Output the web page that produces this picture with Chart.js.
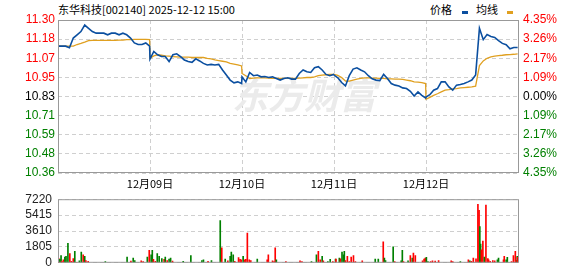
<!DOCTYPE html>
<html>
<head>
<meta charset="utf-8">
<script src="https://cdn.jsdelivr.net/npm/chart.js@4.4.1/dist/chart.umd.min.js"></script>
<style>
  body { margin: 0; background: #fff; width: 578px; height: 276px; position: relative; overflow: hidden; }
  canvas { position: absolute; left: 0; }
  #price { top: 0; }
  #vol { top: 186px; }
  .txt { position: absolute; font-family: "Noto Sans CJK SC", sans-serif; font-size: 11px; line-height: 15px; color: #000; white-space: nowrap; }
  .mk { position: absolute; width: 6px; height: 3px; }
</style>
</head>
<body>
<div class="txt" style="left:58px;top:2px">东华科技[002140] 2025-12-12 15:00</div>
<div class="txt" style="left:430px;top:2px">价格</div>
<div class="mk" style="left:462px;top:11px;background:#0b4fa0"></div>
<div class="txt" style="left:476px;top:2px">均线</div>
<div class="mk" style="left:507px;top:11px;background:#e0a020"></div>
<canvas id="price" width="578" height="190"></canvas>
<canvas id="vol" width="578" height="90"></canvas>
<script>
// one sample every 10 minutes, 241 minutes per trading day
const minutesPerDay = 241;
const sampleStep = 10;

const dayLabels = ["12月09日", "12月10日", "12月11日", "12月12日"];
// bottom to top
const priceTicks = ["10.36", "10.48", "10.59", "10.71", "10.83", "10.95", "11.07", "11.18", "11.30"];
const pctTicks = ["4.35%", "3.26%", "2.17%", "1.09%", "0.00%", "1.09%", "2.17%", "3.26%", "4.35%"];
const priceMin = 10.359;
const priceMax = 11.301;
const volTicks = [0, 1805, 3610, 5415, 7220];

const price1 = [11.14, 11.14, 11.14, 11.13, 11.19, 11.21, 11.23, 11.27, 11.25, 11.23, 11.22, 11.22, 11.22, 11.21, 11.22, 11.22, 11.21, 11.22, 11.21, 11.19, 11.16, 11.15, 11.15, 11.16, 11.14];
const price2 = [11.06, 11.107, 11.087, 11.076, 11.076, 11.045, 11.087, 11.093, 11.076, 11.055, 11.045, 11.04, 11.062, 11.049, 11.034, 11.024, 11.028, 11.024, 11.028, 10.993, 10.962, 10.931, 10.914, 10.92, 10.91];
const price3 = [10.951, 10.92, 10.978, 10.958, 10.962, 10.951, 10.953, 10.947, 10.951, 10.941, 10.931, 10.941, 10.945, 10.937, 10.937, 10.972, 10.993, 10.982, 10.978, 11.007, 11.014, 10.993, 10.966, 10.958, 10.966];
const price4 = [10.962, 10.945, 10.916, 10.895, 10.958, 10.999, 11.007, 10.993, 10.982, 10.958, 10.939, 10.931, 10.928, 10.966, 10.941, 10.91, 10.90, 10.895, 10.883, 10.879, 10.862, 10.833, 10.858, 10.837, 10.821];
const price5 = [10.827, 10.841, 10.869, 10.879, 10.92, 10.92, 10.889, 10.869, 10.90, 10.904, 10.91, 10.92, 10.931, 10.962, 11.25, 11.18, 11.211, 11.2, 11.194, 11.174, 11.157, 11.149, 11.124, 11.132, 11.132];

const avg1 = [11.14, 11.14, 11.14, 11.14, 11.14, 11.15, 11.157, 11.165, 11.174, 11.176, 11.176, 11.176, 11.176, 11.176, 11.176, 11.176, 11.177, 11.177, 11.18, 11.18, 11.182, 11.182, 11.182, 11.182, 11.18];
const avg2 = [11.065, 11.08, 11.087, 11.084, 11.08, 11.078, 11.076, 11.074, 11.072, 11.072, 11.072, 11.07, 11.07, 11.07, 11.07, 11.065, 11.062, 11.055, 11.051, 11.047, 11.043, 11.034, 11.03, 11.024, 11.018];
const avg3 = [10.972, 10.958, 10.941, 10.943, 10.945, 10.945, 10.945, 10.943, 10.941, 10.941, 10.941, 10.941, 10.941, 10.941, 10.941, 10.943, 10.945, 10.947, 10.947, 10.951, 10.958, 10.962, 10.964, 10.966, 10.966];
const avg4 = [10.966, 10.96, 10.947, 10.925, 10.925, 10.931, 10.937, 10.941, 10.945, 10.945, 10.943, 10.943, 10.941, 10.941, 10.939, 10.939, 10.937, 10.937, 10.935, 10.931, 10.927, 10.92, 10.918, 10.916, 10.91];
const avg5 = [10.813, 10.825, 10.837, 10.847, 10.858, 10.869, 10.872, 10.877, 10.879, 10.883, 10.885, 10.887, 10.889, 10.894, 11.02, 11.049, 11.065, 11.074, 11.078, 11.082, 11.084, 11.087, 11.088, 11.09, 11.093];

// volume bars: minute index over the 5 days, amount, 1 = up (red) / 0 = down (green)
const volMinute = [2, 5, 8, 10, 14, 18, 21, 26, 31, 35, 40, 44, 49, 56, 61, 66, 70, 73, 79, 124, 181, 191, 197, 201, 218, 223, 234, 239,
  244, 247, 250, 255, 260, 265, 272, 278, 281, 286, 291, 295, 300, 328, 348, 377, 381, 393, 402, 425, 429, 438, 445, 451, 454, 459, 463, 473, 477, 480,
  485, 489, 492, 496, 501, 505, 522, 548, 551, 562, 566, 569, 572, 597, 634, 639, 664, 677, 682, 687, 692, 695, 707, 713, 720,
  727, 728, 737, 740, 744, 748, 750, 753, 758, 763, 768, 774, 779, 797, 831, 839, 852, 855, 858, 878, 882, 899, 902, 905, 917, 923, 928, 931, 936, 955, 959, 962,
  965, 969, 976, 981, 988, 997, 1030, 1034, 1054, 1075, 1079, 1083, 1088, 1095, 1100, 1103, 1105, 1107, 1109, 1113, 1117, 1121, 1126, 1128, 1132, 1139, 1144, 1151, 1154, 1167, 1169, 1174, 1177, 1188, 1193, 1198, 1201, 1203, 1204];
const volAmount = [490, 394, 820, 164, 328, 656, 722, 2198, 1050, 164, 492, 1312, 66, 230, 1214, 918, 722, 262, 164, 131, 656, 197, 525, 262, 230, 131, 656, 1410,
  918, 1410, 394, 164, 1050, 722, 492, 394, 656, 262, 426, 525, 197, 164, 820, 262, 328, 164, 262, 4789, 1706, 426, 230, 722, 1214, 918, 164, 590, 394, 328,
  722, 328, 394, 3378, 328, 262, 426, 328, 918, 230, 131, 1706, 328, 131, 230, 131, 131, 918, 1312, 328, 722, 230, 131, 394, 131,
  426, 426, 525, 459, 1214, 918, 1312, 262, 722, 131, 656, 820, 131, 230, 426, 426, 2394, 525, 262, 1804, 131, 230, 1410, 131, 230, 820, 525, 1115, 820, 230, 426, 525,
  623, 131, 131, 230, 197, 262, 230, 131, 131, 328, 230, 164, 525, 459, 6626, 5970, 4100, 2132, 1476, 2460, 656, 6560, 492, 328, 164, 262, 230, 328, 525, 328, 722, 328, 623, 131, 820, 1312, 262, 722, 623];
const volUp = [1, 0, 0, 1, 1, 0, 0, 0, 1, 1, 1, 0, 1, 0, 0, 1, 0, 1, 1, 0, 0, 1, 0, 0, 1, 1, 0, 1,
  0, 0, 1, 1, 0, 0, 0, 1, 0, 1, 0, 0, 1, 0, 0, 0, 0, 1, 0, 0, 1, 0, 1, 0, 0, 0, 1, 1, 1, 1,
  0, 1, 1, 1, 1, 1, 0, 1, 1, 1, 1, 1, 0, 1, 1, 1, 0, 0, 1, 1, 0, 1, 0, 0, 1,
  0, 1, 0, 1, 0, 0, 0, 1, 1, 1, 1, 1, 1, 1, 0, 0, 1, 0, 0, 0, 1, 0, 0, 1, 0, 1, 0, 1, 1, 1, 1, 1,
  0, 0, 1, 1, 1, 1, 1, 1, 0, 1, 0, 1, 1, 1, 1, 1, 0, 0, 1, 1, 0, 1, 1, 1, 1, 1, 1, 0, 0, 1, 1, 0, 0, 1, 1, 1, 1, 0, 1];

const upColor = "#ff0000";
const downColor = "#008000";
const flatColor = "#000000";

function toPoints(days) {
  const pts = [];
  days.forEach((arr, d) => {
    arr.forEach((v, i) => pts.push({ x: d * minutesPerDay + i * sampleStep, y: v }));
  });
  return pts;
}

const totalMinutes = minutesPerDay * 5;

function tickColor(ctx) {
  if (ctx.index < 4) return downColor;
  if (ctx.index === 4) return flatColor;
  return upColor;
}

function priceTickValues(scale) {
  const step = (priceMax - priceMin) / (priceTicks.length - 1);
  scale.ticks = priceTicks.map((t, i) => ({ value: priceMin + i * step }));
}

const frame = {
  id: "frame",
  afterDraw(chart) {
    const { ctx, chartArea: a } = chart;
    ctx.save();
    ctx.strokeStyle = "#999";
    ctx.lineWidth = 1;
    ctx.strokeRect(a.left + 0.5, a.top + 0.5, a.right - a.left, a.bottom - a.top - 1);
    ctx.restore();
  },
};

const watermark = {
  id: "watermark",
  beforeDatasetsDraw(chart) {
    const ctx = chart.ctx;
    ctx.save();
    ctx.fillStyle = "#ebebeb";
    ctx.font = "italic bold 36px 'Noto Sans CJK SC'";
    ctx.textBaseline = "middle";
    ctx.fillText("东方财富", 232, 95);
    ctx.restore();
  },
};

const gridColor = "#cfcfcf";
const numFont = { family: "Liberation Sans", size: 12 };

new Chart(document.getElementById("price"), {
  type: "line",
  data: {
    datasets: [
      {
        label: "价格",
        data: toPoints([price1, price2, price3, price4, price5]),
        borderColor: "#0b4fa0",
        borderWidth: 1.6,
        pointRadius: 0,
      },
      {
        label: "均线",
        data: toPoints([avg1, avg2, avg3, avg4, avg5]),
        borderColor: "#e0a020",
        borderWidth: 1.3,
        pointRadius: 0,
      },
    ],
  },
  options: {
    responsive: false,
    animation: false,
    events: [],
    layout: { padding: { top: 20, left: 0, right: 0, bottom: 0 } },
    plugins: { legend: { display: false }, tooltip: { enabled: false } },
    scales: {
      x: {
        type: "linear",
        min: 0,
        max: totalMinutes,
        afterBuildTicks: (s) => {
          s.ticks = dayLabels.map((l, i) => ({ value: (i + 1) * minutesPerDay }));
        },
        afterFit: (s) => {
          s.height = 17;
        },
        grid: { color: gridColor, drawTicks: false },
        border: { display: false, dash: [4, 3] },
        ticks: {
          autoSkip: false,
          maxRotation: 0,
          padding: 4,
          color: "#000",
          font: { family: "Noto Sans CJK SC", size: 11 },
          callback: (v, i) => dayLabels[i],
        },
      },
      y: {
        position: "left",
        min: priceMin,
        max: priceMax,
        afterBuildTicks: priceTickValues,
        afterFit: (s) => {
          s.width = 58;
        },
        grid: { color: gridColor, drawTicks: false },
        border: { display: false, dash: [4, 3] },
        ticks: {
          padding: 3,
          color: tickColor,
          font: numFont,
          callback: (v, i) => priceTicks[i],
        },
      },
      y2: {
        position: "right",
        min: priceMin,
        max: priceMax,
        afterBuildTicks: priceTickValues,
        afterFit: (s) => {
          s.width = 60;
        },
        grid: { display: false, drawTicks: false },
        border: { display: false },
        ticks: {
          padding: 5,
          color: tickColor,
          font: numFont,
          callback: (v, i) => pctTicks[i],
        },
      },
    },
  },
  plugins: [watermark, frame],
});

new Chart(document.getElementById("vol"), {
  type: "bar",
  data: {
    datasets: [
      {
        data: volMinute.map((m, i) => ({ x: m, y: volAmount[i] })),
        backgroundColor: volUp.map((u) => (u ? upColor : downColor)),
        barThickness: 1,
        grouped: false,
      },
    ],
  },
  options: {
    responsive: false,
    animation: false,
    events: [],
    layout: { padding: { top: 10, right: 60, bottom: 6, left: 0 } },
    plugins: { legend: { display: false }, tooltip: { enabled: false } },
    scales: {
      x: { type: "linear", min: 0, max: totalMinutes, offset: false, display: false },
      y: {
        min: 0,
        max: volTicks[volTicks.length - 1],
        afterBuildTicks: (s) => {
          s.ticks = volTicks.map((v) => ({ value: v }));
        },
        afterFit: (s) => {
          s.width = 58;
        },
        grid: { color: gridColor, drawTicks: false },
        border: { display: false, dash: [4, 3] },
        ticks: {
          padding: 6,
          color: "#222",
          font: numFont,
          callback: (v) => String(v),
        },
      },
    },
  },
  plugins: [frame],
});
</script>
</body>
</html>
